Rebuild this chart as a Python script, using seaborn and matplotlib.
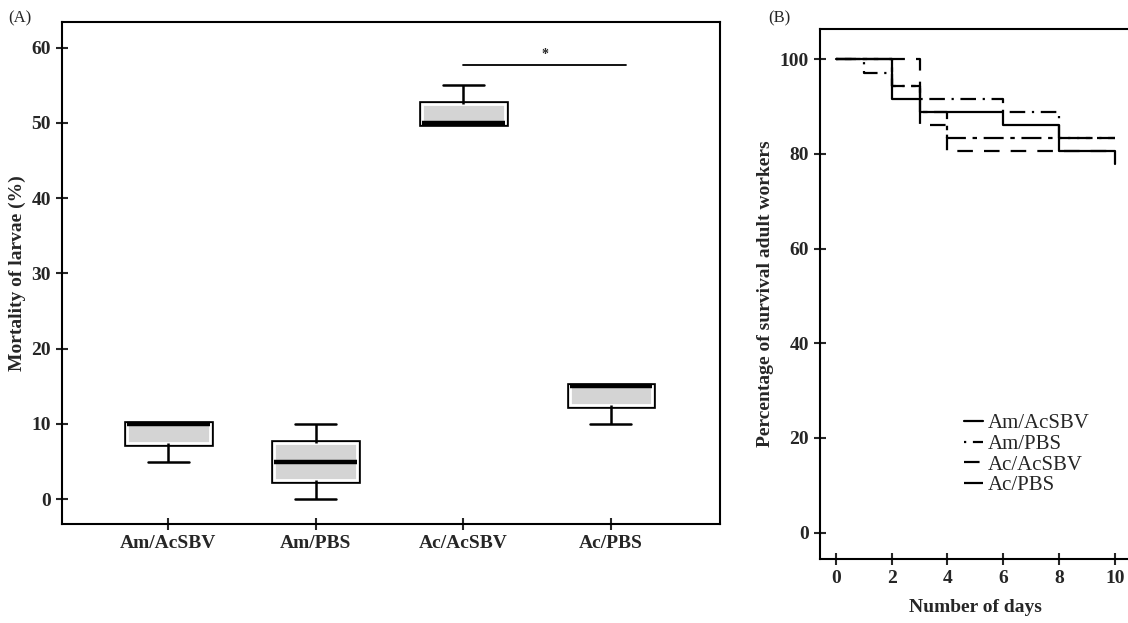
import numpy as np
import pandas as pd
import matplotlib
matplotlib.use("Agg")
import matplotlib.pyplot as plt
import matplotlib.patheffects as pe
import seaborn as sns

# Panel A: larval mortality (%) per group
groups = ["Am/AcSBV", "Am/PBS", "Ac/AcSBV", "Ac/PBS"]
mort_am_acsbv = [5, 7.5, 10, 10, 10]
mort_am_pbs = [0, 2.5, 5, 7.5, 10]
mort_ac_acsbv = [50, 50, 50, 52.5, 55]
mort_ac_pbs = [10, 12.5, 15, 15, 15]

# Panel B: survival of adult workers (%) step curves
surv_labels = ["Am/AcSBV", "Am/PBS", "Ac/AcSBV", "Ac/PBS"]
days_am_acsbv = [0, 2, 3, 6, 8, 10]
surv_am_acsbv = [100, 91.7, 88.9, 86.1, 80.6, 77.8]
days_am_pbs = [0, 1, 2, 3, 6, 8, 10]
surv_am_pbs = [100, 97.2, 94.4, 91.7, 88.9, 83.3, 83.3]
days_ac_acsbv = [0, 3, 4, 10]
surv_ac_acsbv = [100, 86.1, 80.6, 80.6]
days_ac_pbs = [0, 2, 3, 4, 10]
surv_ac_pbs = [100, 94.4, 88.9, 83.3, 83.3]

sns.set_style("white")
plt.rcParams["font.family"] = ["Liberation Serif", "DejaVu Serif"]
plt.rcParams["axes.linewidth"] = 1.5
FS = 14

df = pd.DataFrame({
    "group": np.repeat(groups, 5),
    "mortality": mort_am_acsbv + mort_am_pbs + mort_ac_acsbv + mort_ac_pbs,
})

fig = plt.figure(figsize=(11.28, 6.23), dpi=100)
axA = fig.add_axes([62 / 1128, 1 - 524 / 623, (720 - 62) / 1128, (524 - 22) / 623])
axB = fig.add_axes([820 / 1128, 1 - 559 / 623, (1140 - 820) / 1128, (559 - 29) / 623])

# ---- panel A
sns.boxplot(data=df, x="group", y="mortality", order=groups, ax=axA,
            color="#d4d4d4", linecolor="black", linewidth=1.8, width=0.56,
            saturation=1, whis=1.5,
            medianprops=dict(color="black", linewidth=3.2),
            whiskerprops=dict(linewidth=1.8), capprops=dict(linewidth=1.8))
# black outer edge with a white inner rim, like the original
for p in axA.patches:
    p.set_edgecolor("white")
    p.set_linewidth(2.0)
    p.set_path_effects([pe.Stroke(linewidth=4.8, foreground="black"), pe.Normal()])

axA.set_ylim(-3.3, 63.4)
axA.set_xlim(-0.72, 3.74)
axA.set_yticks(range(0, 61, 10))
axA.set_xlabel("")
axA.set_ylabel("Mortality of larvae (%)", fontsize=FS, fontweight="bold")
axA.tick_params(direction="inout", length=9, width=1.5, labelsize=FS,
                bottom=True, left=True)
for lab in axA.get_xticklabels() + axA.get_yticklabels():
    lab.set_fontweight("bold")
for s in axA.spines.values():
    s.set_visible(True)
    s.set_color("black")

# significance bar
axA.plot([2.0, 3.1], [57.7, 57.7], color="black", lw=1.3)
axA.text(2.55, 58.2, "*", ha="center", va="bottom", fontsize=10, fontweight="bold")

# ---- panel B
styles = ["-", (0, (1, 3, 7, 3)), (0, (7, 5)), (0, (9, 3, 2, 3))]
curves = [(days_am_acsbv, surv_am_acsbv), (days_am_pbs, surv_am_pbs),
          (days_ac_acsbv, surv_ac_acsbv), (days_ac_pbs, surv_ac_pbs)]
for (d, s), lab, ls in zip(curves, surv_labels, styles):
    sns.lineplot(x=d, y=s, drawstyle="steps-post", ax=axB, color="black",
                 lw=1.6, linestyle=ls, label=lab, estimator=None)

axB.set_xlim(-0.57, 10.9)
axB.set_ylim(-5.6, 106.4)
axB.set_xticks(range(0, 11, 2))
axB.set_yticks(range(0, 101, 20))
axB.set_xlabel("Number of days", fontsize=FS, fontweight="bold")
axB.xaxis.set_label_coords((975 - 820) / (1140 - 820), -0.075)
axB.set_ylabel("Percentage of survival adult workers", fontsize=FS, fontweight="bold")
axB.tick_params(direction="inout", length=9, width=1.5, labelsize=FS,
                bottom=True, left=True)
for lab in axB.get_xticklabels() + axB.get_yticklabels():
    lab.set_fontweight("bold")
for s in axB.spines.values():
    s.set_visible(True)
    s.set_color("black")
axB.legend(loc="upper left", bbox_to_anchor=(945 / 1128, 1 - 395 / 623),
           bbox_transform=fig.transFigure, frameon=False,
           handlelength=0.9, handletextpad=0.25, labelspacing=0.05,
           prop=dict(size=15))

fig.text(8 / 1128, 1 - 18 / 623, "(A)", fontsize=12, va="center")
fig.text(768 / 1128, 1 - 18 / 623, "(B)", fontsize=12, va="center")

fig.savefig("out.png", dpi=100)
